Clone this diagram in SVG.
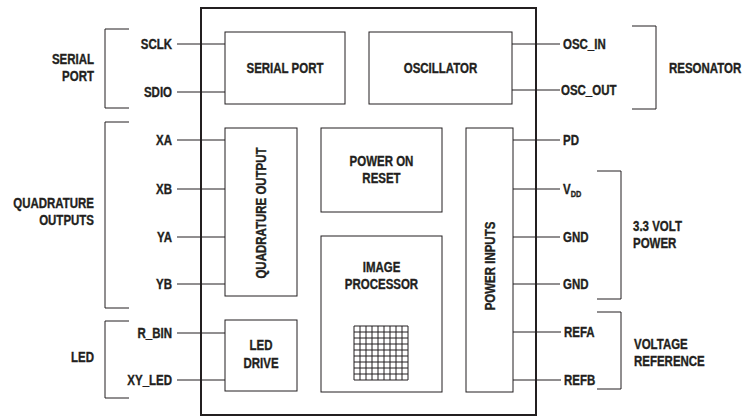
<svg xmlns="http://www.w3.org/2000/svg" width="746" height="418" viewBox="0 0 746 418">
<style>
text{font-family:"Liberation Sans",Arial,sans-serif;font-weight:bold;font-size:14px;fill:#231f20;stroke:#231f20;stroke-width:0.35}
.box{fill:none;stroke:#231f20;stroke-width:1}
.chip{fill:none;stroke:#231f20;stroke-width:2}
.ln{fill:none;stroke:#231f20;stroke-width:1}
.grid{fill:none;stroke:#231f20;stroke-width:1}
.r{text-anchor:end}
.m{text-anchor:middle}
</style>
<rect width="746" height="418" fill="#fff"/>
<g id="chip"><rect class="chip" x="201" y="8" width="335" height="407"/></g>
<g id="serial-port"><rect class="box" x="225" y="32" width="120" height="72"/><text class="m" transform="translate(285,73) scale(0.82,1)">SERIAL PORT</text></g>
<g id="oscillator"><rect class="box" x="369" y="32" width="143" height="72"/><text class="m" transform="translate(440.5,73) scale(0.82,1)">OSCILLATOR</text></g>
<g id="quadrature-output"><rect class="box" x="225" y="128" width="72" height="168"/><text class="m" transform="translate(266,213) rotate(-90) scale(0.82,1)">QUADRATURE OUTPUT</text></g>
<g id="power-on-reset"><rect class="box" x="321" y="128" width="121" height="84"/><text class="m" transform="translate(381.5,166) scale(0.82,1)">POWER ON</text><text class="m" transform="translate(381.5,183) scale(0.82,1)">RESET</text></g>
<g id="image-processor"><rect class="box" x="321" y="236" width="121" height="156"/><text class="m" transform="translate(381.5,272) scale(0.82,1)">IMAGE</text><text class="m" transform="translate(381.5,289) scale(0.82,1)">PROCESSOR</text>
<path class="grid" d="M354 326H408M354 332H408M354 338H408M354 344H408M354 350H408M354 356H408M354 362H408M354 368H408M354 374H408M354 380H408M354 326V380M360 326V380M366 326V380M372 326V380M378 326V380M384 326V380M390 326V380M396 326V380M402 326V380M408 326V380"/></g>
<g id="power-inputs"><rect class="box" x="466" y="128" width="47" height="264"/><text class="m" transform="translate(495,266) rotate(-90) scale(0.82,1)">POWER INPUTS</text></g>
<g id="led-drive"><rect class="box" x="225" y="320" width="72" height="71"/><text class="m" transform="translate(261,350) scale(0.82,1)">LED</text><text class="m" transform="translate(261,368) scale(0.82,1)">DRIVE</text></g>
<g id="connectors">
<path class="ln" d="M177 44H225M177 92H225M512 44H560M512 90H560M177 140H225M177 189H225M177 237H225M177 284H225M513 140H560M513 189H560M513 237H560M513 284H560M513 332H561M513 380H561M177 333H225M177 380H225"/>
<path class="ln" d="M129 29H105V108H129M129 122H105V308H129M129 321H105V398H129M632 26H656V109H632M597 171H621V299H597M597 312H621V389H597"/>
</g>
<g id="labels">
<text class="r" transform="translate(172,49) scale(0.82,1)">SCLK</text>
<text class="r" transform="translate(172,97) scale(0.82,1)">SDIO</text>
<text class="r" transform="translate(172,145) scale(0.82,1)">XA</text>
<text class="r" transform="translate(172,194) scale(0.82,1)">XB</text>
<text class="r" transform="translate(172,242) scale(0.82,1)">YA</text>
<text class="r" transform="translate(172,289) scale(0.82,1)">YB</text>
<text class="r" transform="translate(172,338) scale(0.82,1)">R_BIN</text>
<text class="r" transform="translate(172,385) scale(0.82,1)">XY_LED</text>
<text transform="translate(563,49) scale(0.82,1)">OSC_IN</text>
<text transform="translate(561,95) scale(0.82,1)">OSC_OUT</text>
<text transform="translate(563,145) scale(0.82,1)">PD</text>
<text transform="translate(563,194) scale(0.82,1)">V<tspan font-size="9" dy="3">DD</tspan></text>
<text transform="translate(563,242) scale(0.82,1)">GND</text>
<text transform="translate(563,289) scale(0.82,1)">GND</text>
<text transform="translate(564,337) scale(0.82,1)">REFA</text>
<text transform="translate(564,385) scale(0.82,1)">REFB</text>
<text class="r" transform="translate(94,64) scale(0.82,1)">SERIAL</text>
<text class="r" transform="translate(94,81) scale(0.82,1)">PORT</text>
<text class="r" transform="translate(94,208) scale(0.82,1)">QUADRATURE</text>
<text class="r" transform="translate(94,225) scale(0.82,1)">OUTPUTS</text>
<text class="r" transform="translate(94,362) scale(0.82,1)">LED</text>
<text transform="translate(669,73) scale(0.82,1)">RESONATOR</text>
<text transform="translate(633,231) scale(0.82,1)">3.3 VOLT</text>
<text transform="translate(633,248) scale(0.82,1)">POWER</text>
<text transform="translate(634,349) scale(0.82,1)">VOLTAGE</text>
<text transform="translate(634,366) scale(0.82,1)">REFERENCE</text>
</g>
</svg>
